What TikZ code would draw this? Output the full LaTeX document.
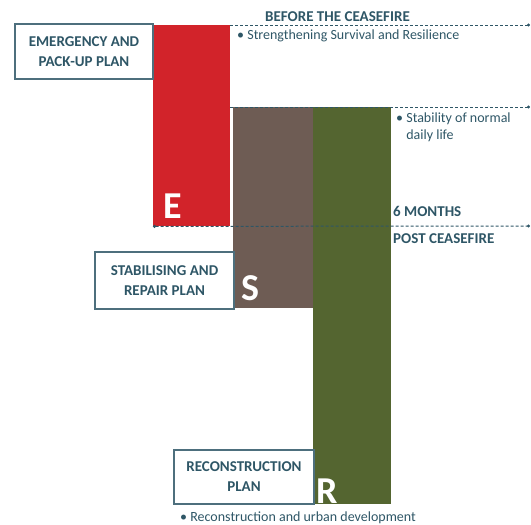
\documentclass[tikz,border=0pt]{standalone}
\usepackage{fontspec}
\setmainfont{Carlito}
\usetikzlibrary{arrows.meta}

\definecolor{ered}{HTML}{D2232A}
\definecolor{sbrown}{HTML}{6E5C54}
\definecolor{rgreen}{HTML}{546530}
\definecolor{tealtxt}{HTML}{2E5666}

\tikzset{
  planbox/.style={draw=tealtxt!85, line width=1.4pt, fill=white, text=tealtxt,
    font=\bfseries\fontsize{15}{20}\selectfont, align=center, inner sep=0pt},
  phase/.style={anchor=north west, inner sep=0pt},
  letter/.style={text=white, font=\bfseries\fontsize{38}{38}\selectfont,
    anchor=base west, inner sep=0pt},
  timeline/.style={dash pattern=on 3pt off 2pt, line width=1pt, draw=tealtxt,
    -{Circle[length=3pt]}},
  note/.style={text=tealtxt, font=\fontsize{14}{17}\selectfont, anchor=base west,
    inner sep=0pt, align=left},
  mark label/.style={text=tealtxt, font=\bfseries\fontsize{15}{15}\selectfont,
    anchor=base west, inner sep=0pt}
}

\begin{document}
\begin{tikzpicture}[x=1pt, y=-1pt]
    \useasboundingbox (0,0) rectangle (531,525);

    % phase blocks
    \node[phase, fill=ered, minimum width=77pt, minimum height=201pt] (E) at (153,25) {};
    \node[phase, fill=sbrown, minimum width=80pt, minimum height=201pt] (S) at (233,107) {};
    \node[phase, fill=rgreen, minimum width=78pt, minimum height=397pt] (R) at (313,107) {};

    \node[letter] (Eletter) at (163,218) {E};
    \node[letter] (Sletter) at (241,300) {S};
    \node[letter] (Rletter) at (316,503) {R};

    % plan boxes
    \node[planbox, minimum width=138pt, minimum height=55pt] (emerg) at (84,51.5)
        {EMERGENCY AND\\PACK-UP PLAN};
    \node[planbox, minimum width=139pt, minimum height=57pt] (stab) at (164.5,280.5)
        {STABILISING AND\\REPAIR PLAN};
    \node[planbox, minimum width=140pt, minimum height=54pt] (recon) at (244,477)
        {RECONSTRUCTION\\PLAN};

    % time marks
    \coordinate (end1) at (530,25);
    \coordinate (end2) at (530,107);
    \coordinate (end3) at (530,226);
    \draw[timeline] (E.north east) -- (end1);
    \draw[timeline] (E.east |- S.north) -- (end2);
    \draw[timeline, {Circle[length=3pt]}-{Circle[length=3pt]}] (E.south west) -- (end3);

    \node[mark label] (before) at (265,21) {BEFORE THE CEASEFIRE};
    \node[mark label] (six) at (393,216) {6 MONTHS};
    \node[mark label] (post) at (393,243) {POST CEASEFIRE};

    \node[note] (survive) at (237,39) {\textbullet\ Strengthening Survival and Resilience};
    \node[note] (stable) at (396,139)
        {\textbullet\ Stability of normal\\\phantom{\textbullet\ }daily life};
    \node[note] (urban) at (180,521) {\textbullet\ Reconstruction and urban development};
\end{tikzpicture}
\end{document}
